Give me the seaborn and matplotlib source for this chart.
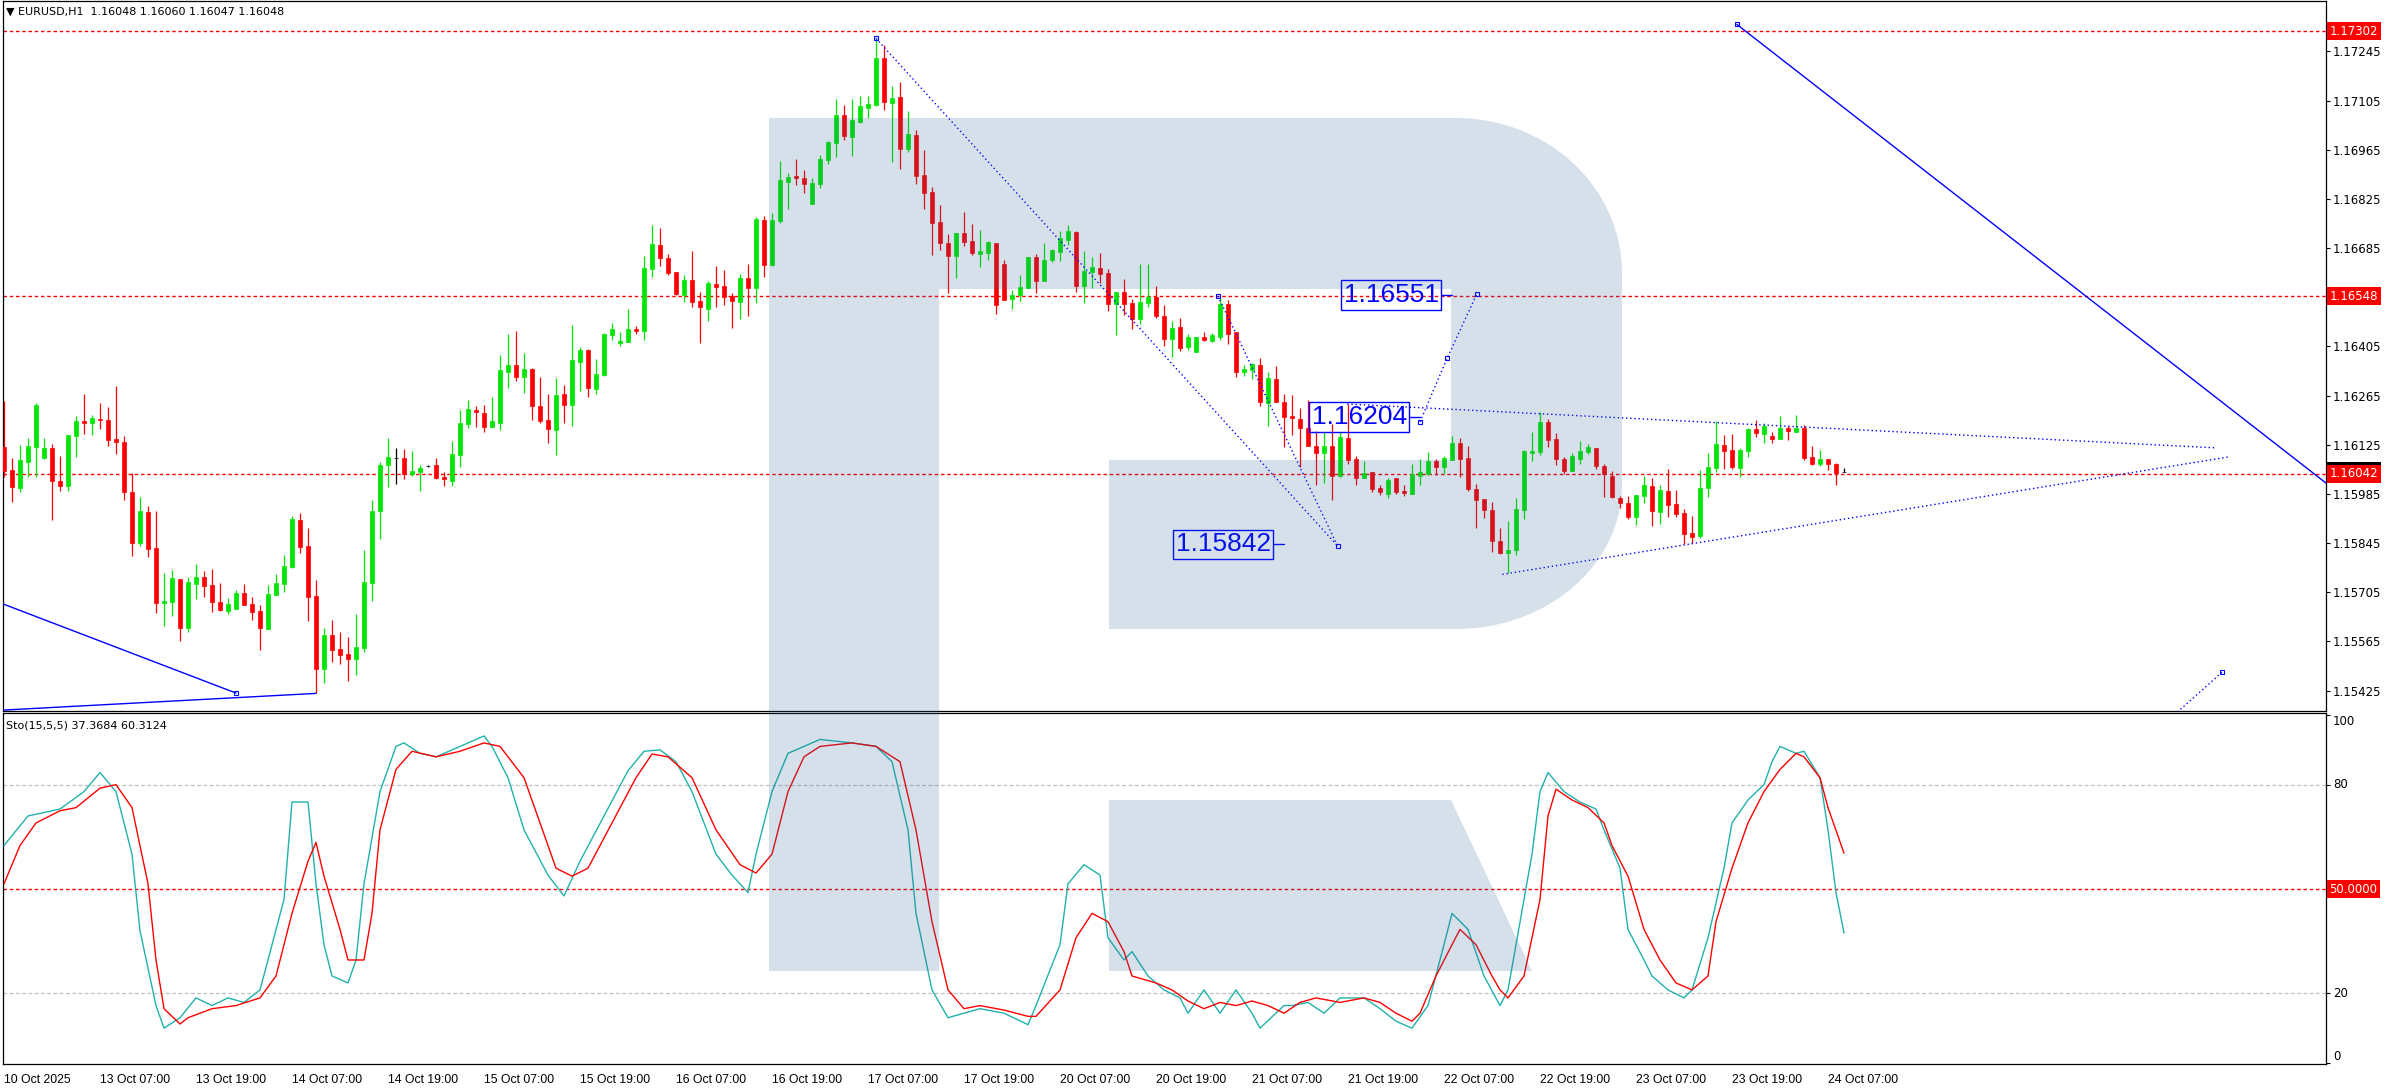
import numpy as np
import matplotlib
matplotlib.use("Agg")
import matplotlib.pyplot as plt
import matplotlib.transforms as mtransforms
from matplotlib.patches import Polygon
import seaborn as sns

# ---------------- data (EURUSD H1, bar 0 = 10 Oct 19:00) ----------------
opens = [
    1.16119, 1.16053, 1.16003, 1.16077, 1.16119, 1.16088, 1.16115, 1.16022, 1.16008, 1.16151,
    1.16192, 1.16188, 1.16198, 1.16195, 1.16141, 1.16133, 1.15990, 1.15845, 1.15933, 1.15831,
    1.15675, 1.15678, 1.15743, 1.15603, 1.15729, 1.15748, 1.15726, 1.15677, 1.15652, 1.15657,
    1.15703, 1.15671, 1.15651, 1.15600, 1.15698, 1.15729, 1.15776, 1.15911, 1.15837, 1.15693,
    1.15487, 1.15583, 1.15543, 1.15529, 1.15514, 1.15547, 1.15732, 1.15937, 1.16066, 1.16086,
    1.16088, 1.16042, 1.16048, 1.16065, 1.16067, 1.16032, 1.16022, 1.16097, 1.16185, 1.16224,
    1.16216, 1.16176, 1.16188, 1.16333, 1.16352, 1.16319, 1.16341, 1.16235, 1.16196, 1.16168,
    1.16270, 1.16239, 1.16361, 1.16395, 1.16284, 1.16324, 1.16438, 1.16416, 1.16417, 1.16455,
    1.16449, 1.16624, 1.16694, 1.16657, 1.16616, 1.16551, 1.16594, 1.16534, 1.16512, 1.16583,
    1.16577, 1.16548, 1.16531, 1.16600, 1.16570, 1.16765, 1.16637, 1.16762, 1.16874, 1.16890,
    1.16884, 1.16811, 1.16868, 1.16937, 1.16984, 1.17064, 1.17002, 1.17045, 1.17084, 1.17092,
    1.17226, 1.17099, 1.17114, 1.16968, 1.17007, 1.16893, 1.16845, 1.16759, 1.16699, 1.16663,
    1.16728, 1.16705, 1.16669, 1.16672, 1.16699, 1.16640, 1.16539, 1.16552, 1.16572, 1.16660,
    1.16591, 1.16651, 1.16674, 1.16709, 1.16730, 1.16577, 1.16617, 1.16628, 1.16614, 1.16526,
    1.16560, 1.16528, 1.16484, 1.16530, 1.16547, 1.16492, 1.16426, 1.16460, 1.16403, 1.16390,
    1.16431, 1.16420, 1.16431, 1.16526, 1.16446, 1.16333, 1.16338, 1.16352, 1.16245, 1.16312,
    1.16246, 1.16207, 1.16198, 1.16173, 1.16121, 1.16102, 1.16121, 1.16037, 1.16144, 1.16085,
    1.16031, 1.16048, 1.16003, 1.15986, 1.16029, 1.15994, 1.15986, 1.16037, 1.16043, 1.16080,
    1.16063, 1.16083, 1.16131, 1.16088, 1.16000, 1.15971, 1.15940, 1.15852, 1.15818, 1.15824,
    1.15939, 1.16102, 1.16105, 1.16190, 1.16141, 1.16084, 1.16051, 1.16085, 1.16105, 1.16115,
    1.16064, 1.16036, 1.15973, 1.15959, 1.15920, 1.15980, 1.16007, 1.15934, 1.15993, 1.15956,
    1.15931, 1.15874, 1.15866, 1.16003, 1.16059, 1.16124, 1.16110, 1.16059, 1.16107, 1.16170,
    1.16156, 1.16150, 1.16141, 1.16172, 1.16161, 1.16172, 1.16090, 1.16070, 1.16084, 1.16070,
    1.16048,
]
highs = [
    1.16250, 1.16086, 1.16124, 1.16143, 1.16245, 1.16143, 1.16127, 1.16093, 1.16153, 1.16207,
    1.16269, 1.16209, 1.16245, 1.16232, 1.16292, 1.16150, 1.16044, 1.15975, 1.15950, 1.15936,
    1.15761, 1.15768, 1.15743, 1.15749, 1.15785, 1.15765, 1.15771, 1.15731, 1.15690, 1.15711,
    1.15729, 1.15691, 1.15668, 1.15726, 1.15756, 1.15811, 1.15922, 1.15930, 1.15889, 1.15740,
    1.15602, 1.15626, 1.15592, 1.15578, 1.15643, 1.15825, 1.15968, 1.16076, 1.16143, 1.16115,
    1.16114, 1.16107, 1.16066, 1.16068, 1.16088, 1.16048, 1.16136, 1.16224, 1.16252, 1.16235,
    1.16238, 1.16262, 1.16381, 1.16441, 1.16449, 1.16386, 1.16344, 1.16318, 1.16270, 1.16315,
    1.16295, 1.16466, 1.16403, 1.16398, 1.16369, 1.16444, 1.16472, 1.16446, 1.16512, 1.16463,
    1.16663, 1.16751, 1.16743, 1.16667, 1.16616, 1.16608, 1.16676, 1.16560, 1.16591, 1.16634,
    1.16623, 1.16558, 1.16610, 1.16640, 1.16773, 1.16776, 1.16785, 1.16933, 1.16900, 1.16939,
    1.16907, 1.16884, 1.16950, 1.16991, 1.17109, 1.17092, 1.17109, 1.17118, 1.17118, 1.17282,
    1.17263, 1.17146, 1.17158, 1.17075, 1.17021, 1.16964, 1.16859, 1.16808, 1.16725, 1.16728,
    1.16788, 1.16753, 1.16737, 1.16706, 1.16699, 1.16651, 1.16565, 1.16608, 1.16660, 1.16668,
    1.16699, 1.16683, 1.16734, 1.16751, 1.16733, 1.16677, 1.16660, 1.16671, 1.16625, 1.16560,
    1.16597, 1.16540, 1.16640, 1.16640, 1.16578, 1.16523, 1.16477, 1.16486, 1.16440, 1.16431,
    1.16446, 1.16443, 1.16547, 1.16537, 1.16446, 1.16352, 1.16358, 1.16372, 1.16332, 1.16349,
    1.16270, 1.16267, 1.16230, 1.16253, 1.16164, 1.16161, 1.16184, 1.16161, 1.16241, 1.16094,
    1.16080, 1.16048, 1.16009, 1.16029, 1.16029, 1.16009, 1.16071, 1.16085, 1.16103, 1.16085,
    1.16094, 1.16151, 1.16145, 1.16122, 1.16014, 1.15971, 1.15963, 1.15889, 1.15909, 1.15972,
    1.16110, 1.16161, 1.16217, 1.16197, 1.16159, 1.16090, 1.16101, 1.16136, 1.16127, 1.16115,
    1.16071, 1.16050, 1.15979, 1.15979, 1.15982, 1.16036, 1.16030, 1.16010, 1.16056, 1.15996,
    1.15942, 1.15923, 1.16053, 1.16101, 1.16192, 1.16153, 1.16156, 1.16116, 1.16172, 1.16195,
    1.16187, 1.16161, 1.16207, 1.16178, 1.16210, 1.16181, 1.16121, 1.16110, 1.16084, 1.16073,
    1.16060,
]
lows = [
    1.16034, 1.15963, 1.15991, 1.16034, 1.16034, 1.16084, 1.15911, 1.15994, 1.15993, 1.16091,
    1.16157, 1.16153, 1.16170, 1.16122, 1.16099, 1.15968, 1.15808, 1.15837, 1.15806, 1.15647,
    1.15609, 1.15638, 1.15567, 1.15592, 1.15686, 1.15692, 1.15649, 1.15652, 1.15643, 1.15657,
    1.15668, 1.15626, 1.15542, 1.15599, 1.15697, 1.15706, 1.15775, 1.15818, 1.15624, 1.15417,
    1.15448, 1.15507, 1.15501, 1.15453, 1.15470, 1.15536, 1.15681, 1.15857, 1.16006, 1.16012,
    1.16028, 1.16036, 1.15993, 1.16061, 1.16028, 1.16007, 1.16007, 1.16061, 1.16173, 1.16175,
    1.16161, 1.16176, 1.16167, 1.16288, 1.16306, 1.16273, 1.16196, 1.16188, 1.16131, 1.16096,
    1.16187, 1.16178, 1.16278, 1.16261, 1.16269, 1.16321, 1.16423, 1.16406, 1.16417, 1.16439,
    1.16423, 1.16603, 1.16634, 1.16609, 1.16551, 1.16531, 1.16516, 1.16415, 1.16477, 1.16517,
    1.16523, 1.16458, 1.16483, 1.16492, 1.16529, 1.16602, 1.16633, 1.16757, 1.16796, 1.16866,
    1.16843, 1.16811, 1.16857, 1.16925, 1.16945, 1.16994, 1.16948, 1.17042, 1.17056, 1.17089,
    1.17078, 1.16931, 1.16911, 1.16959, 1.16868, 1.16797, 1.16664, 1.16679, 1.16558, 1.16601,
    1.16692, 1.16664, 1.16632, 1.16652, 1.16497, 1.16538, 1.16512, 1.16535, 1.16572, 1.16558,
    1.16591, 1.16644, 1.16649, 1.16694, 1.16561, 1.16528, 1.16572, 1.16586, 1.16506, 1.16438,
    1.16495, 1.16455, 1.16470, 1.16518, 1.16486, 1.16407, 1.16376, 1.16392, 1.16395, 1.16390,
    1.16420, 1.16417, 1.16423, 1.16412, 1.16319, 1.16321, 1.16312, 1.16236, 1.16179, 1.16248,
    1.16120, 1.16154, 1.16061, 1.16122, 1.16011, 1.16017, 1.15969, 1.16034, 1.16071, 1.16009,
    1.16029, 1.15991, 1.15983, 1.15974, 1.15986, 1.15980, 1.15986, 1.16009, 1.16040, 1.16040,
    1.16043, 1.16083, 1.16034, 1.15994, 1.15889, 1.15917, 1.15821, 1.15815, 1.15761, 1.15810,
    1.15915, 1.16080, 1.16097, 1.16120, 1.16068, 1.16041, 1.16051, 1.16071, 1.16100, 1.16057,
    1.15975, 1.15972, 1.15946, 1.15915, 1.15897, 1.15960, 1.15895, 1.15900, 1.15920, 1.15920,
    1.15843, 1.15846, 1.15860, 1.15977, 1.16048, 1.16056, 1.16056, 1.16033, 1.16090, 1.16147,
    1.16130, 1.16130, 1.16141, 1.16139, 1.16161, 1.16082, 1.16067, 1.16065, 1.16053, 1.16011,
    1.16047,
]
closes = [
    1.16051, 1.16006, 1.16082, 1.16121, 1.16238, 1.16117, 1.16023, 1.16008, 1.16153, 1.16192,
    1.16188, 1.16201, 1.16196, 1.16138, 1.16134, 1.15991, 1.15845, 1.15936, 1.15829, 1.15675,
    1.15681, 1.15746, 1.15603, 1.15734, 1.15748, 1.15724, 1.15678, 1.15654, 1.15671, 1.15702,
    1.15669, 1.15649, 1.15604, 1.15700, 1.15731, 1.15780, 1.15913, 1.15834, 1.15692, 1.15487,
    1.15583, 1.15542, 1.15527, 1.15514, 1.15549, 1.15734, 1.15936, 1.16066, 1.16089, 1.16086,
    1.16042, 1.16050, 1.16059, 1.16065, 1.16029, 1.16028, 1.16099, 1.16187, 1.16227, 1.16217,
    1.16176, 1.16192, 1.16338, 1.16352, 1.16319, 1.16341, 1.16236, 1.16192, 1.16170, 1.16267,
    1.16239, 1.16366, 1.16395, 1.16288, 1.16327, 1.16441, 1.16455, 1.16420, 1.16455, 1.16449,
    1.16629, 1.16697, 1.16658, 1.16615, 1.16554, 1.16594, 1.16532, 1.16516, 1.16586, 1.16574,
    1.16546, 1.16534, 1.16600, 1.16570, 1.16768, 1.16637, 1.16765, 1.16879, 1.16888, 1.16884,
    1.16868, 1.16870, 1.16939, 1.16987, 1.17064, 1.17005, 1.17050, 1.17089, 1.17095, 1.17226,
    1.17102, 1.17112, 1.16968, 1.17010, 1.16891, 1.16843, 1.16757, 1.16700, 1.16663, 1.16728,
    1.16703, 1.16672, 1.16677, 1.16702, 1.16524, 1.16538, 1.16550, 1.16574, 1.16660, 1.16591,
    1.16651, 1.16680, 1.16714, 1.16734, 1.16577, 1.16620, 1.16631, 1.16611, 1.16526, 1.16560,
    1.16526, 1.16484, 1.16532, 1.16546, 1.16492, 1.16426, 1.16457, 1.16401, 1.16431, 1.16431,
    1.16423, 1.16437, 1.16526, 1.16440, 1.16333, 1.16341, 1.16355, 1.16248, 1.16315, 1.16248,
    1.16205, 1.16200, 1.16174, 1.16122, 1.16102, 1.16121, 1.16037, 1.16147, 1.16083, 1.16031,
    1.16044, 1.16000, 1.15991, 1.16026, 1.15991, 1.15988, 1.16043, 1.16046, 1.16080, 1.16063,
    1.16088, 1.16131, 1.16085, 1.16000, 1.15969, 1.15940, 1.15852, 1.15818, 1.15826, 1.15943,
    1.16108, 1.16107, 1.16190, 1.16139, 1.16085, 1.16051, 1.16093, 1.16107, 1.16118, 1.16064,
    1.16041, 1.15975, 1.15960, 1.15920, 1.15982, 1.16010, 1.15937, 1.15996, 1.15954, 1.15929,
    1.15872, 1.15863, 1.16002, 1.16062, 1.16127, 1.16108, 1.16062, 1.16110, 1.16170, 1.16158,
    1.16178, 1.16141, 1.16172, 1.16164, 1.16172, 1.16087, 1.16070, 1.16084, 1.16070, 1.16045,
    1.16048,
]

# Stochastic (15,5,5): vertices (bar index, value)
main_bars = [0, 3, 7, 10, 12, 14, 16, 17, 19, 20, 22, 24, 26, 28, 30, 32, 33, 35, 36, 38,
             39, 40, 41, 43, 44, 45, 47, 49, 50, 52, 54, 57, 60, 61, 63, 65, 68, 70, 72, 75,
             78, 80, 82, 84, 86, 89, 91, 93, 94, 96, 98, 100, 102, 106, 109, 111, 113, 114, 116, 118,
             120, 122, 125, 128, 129, 132, 133, 135, 137, 138, 140, 141, 143, 145, 147, 148, 150, 152, 154, 156,
             157, 160, 161, 163, 165, 167, 170, 172, 174, 176, 178, 180, 181, 183, 185, 187, 188, 189, 191, 192,
             193, 195, 197, 199, 200, 202, 203, 205, 206, 208, 210, 211, 213, 215, 216, 218, 220, 221, 222, 224,
             225, 227, 228, 229, 230]
main_vals = [62.5, 71, 73, 78, 83.5, 78, 60, 38, 16.5, 10, 13, 18.7, 16.5, 18.7, 17.4, 21, 29.6, 47, 75, 75,
             51.5, 34, 25, 23, 29.6, 51.5, 78, 91, 92, 89, 88, 91, 94, 91, 82, 67, 54, 48, 58, 71,
             84, 89.6, 90, 86.6, 78, 60, 54, 49, 60, 78, 89, 91, 93, 92, 91, 86.6, 67, 43, 21, 13,
             14.3, 15.6, 14.3, 11, 16.5, 34, 51.5, 57, 54, 36, 29.6, 32, 25, 21, 18.7, 14.3, 21, 14.3, 21, 14.3,
             10, 16.5, 16.5, 17.4, 14.3, 18.7, 18.7, 15.6, 12, 10, 16.5, 34, 43, 38.4, 25, 16.5, 21, 34, 60, 78,
             83.5, 78, 75, 73, 67, 56, 38.4, 29.6, 25, 21, 18.7, 21, 36, 56, 69, 75.6, 80, 86.6, 91, 89,
             89.6, 82, 67, 49, 37.3684]
sig_bars = [0, 2, 4, 7, 9, 12, 14, 16, 18, 19, 20, 22, 23, 26, 29, 32, 34, 36, 38, 39,
            40, 42, 43, 45, 46, 47, 49, 51, 54, 57, 60, 62, 65, 67, 69, 71, 73, 76, 79, 81,
            83, 86, 89, 92, 94, 96, 98, 100, 102, 106, 109, 112, 114, 116, 118, 120, 122, 125, 128, 129,
            132, 134, 136, 138, 140, 141, 144, 146, 148, 150, 152, 154, 156, 158, 160, 162, 164, 167, 170, 172,
            174, 176, 177, 179, 181, 182, 184, 186, 187, 188, 190, 192, 193, 194, 196, 198, 200, 201, 203, 205,
            207, 209, 211, 213, 214, 216, 218, 220, 222, 224, 225, 227, 228, 230]
sig_vals = [51.5, 62.5, 69, 72.5, 73.4, 79, 80, 73.4, 51.5, 29.6, 15.6, 11.2, 13, 15.6, 16.5, 18.7, 25, 43, 58, 63.4,
            53.7, 38.4, 29.6, 29.6, 43, 67, 84.4, 89.6, 88, 89.6, 92, 91, 82, 69, 56, 53.7, 56, 69, 82, 88.8,
            88, 82, 67, 57, 54.6, 60, 78, 88, 91, 92, 91, 86.6, 67, 40.6, 21, 15.6, 16.5, 15.2, 13.4, 13.4,
            21, 36, 43, 40.6, 32, 25, 23, 21, 17.8, 15.6, 17.4, 16.5, 17.8, 16.5, 14.3, 17.4, 18.7, 17.4, 18.7, 17.4,
            14.3, 12, 14.3, 25, 34, 38.4, 34, 25, 21, 18.7, 25, 47, 71, 78.7, 75.6, 73.4, 69, 62.5, 53.7, 38.4,
            29.6, 23, 21, 25, 40.6, 56, 69, 78, 84.4, 89, 88, 82, 73.4, 60.3124]

time_labels = ["10 Oct 2025", "13 Oct 07:00", "13 Oct 19:00", "14 Oct 07:00", "14 Oct 19:00",
               "15 Oct 07:00", "15 Oct 19:00", "16 Oct 07:00", "16 Oct 19:00", "17 Oct 07:00",
               "17 Oct 19:00", "20 Oct 07:00", "20 Oct 19:00", "21 Oct 07:00", "21 Oct 19:00",
               "22 Oct 07:00", "22 Oct 19:00", "23 Oct 07:00", "23 Oct 19:00", "24 Oct 07:00"]
price_ticks = [1.17245, 1.17105, 1.16965, 1.16825, 1.16685, 1.16405, 1.16265, 1.16125,
               1.15985, 1.15845, 1.15705, 1.15565, 1.15425]
level_lines = [1.17302, 1.16548, 1.16042]
bid_price = 1.16048
sto_grid = [20, 80]
sto_mid = 50

# analyst drawings (bar index, price)
solid_lines = [[(-0.5, 1.15675), (29.0, 1.15418)],
               [(-0.5, 1.15369), (39.0, 1.15417)],
               [(216.6, 1.17322), (290.3, 1.16015)]]
dotted_lines = [[(109.0, 1.17282), (166.7, 1.15837)],
                [(151.75, 1.16548), (166.7, 1.15837)],
                [(177.0, 1.16190), (180.4, 1.16372), (184.1, 1.16554)],
                [(167.9, 1.16241), (276.6, 1.16116)],
                [(187.3, 1.15756), (278.0, 1.16090)],
                [(270.5, 1.15340), (277.3, 1.15478)]]
anchor_points = [(29.0, 1.15418), (216.6, 1.17322), (109.0, 1.17282), (166.7, 1.15837),
                 (151.75, 1.16548), (177.0, 1.16190), (180.4, 1.16372), (184.1, 1.16554),
                 (277.3, 1.15478)]
target_texts = ["1.16551", "1.16204", "1.15842"]
target_pos = [(173.4, 1.16551), (169.4, 1.16204), (152.4, 1.15842)]

BULL = "#00e600"
BEAR = "#ff0000"
STO_MAIN = "#20b2aa"
BLUE = "#0000ff"
W, H = 2390, 1090

sns.set_style("white")
plt.rcParams["font.family"] = ["DejaVu Sans"]

fig = plt.figure(figsize=(W / 100, H / 100), dpi=100)
ax = fig.add_axes([3 / W, (H - 711) / H, 2323 / W, 710 / H])
ax2 = fig.add_axes([3 / W, (H - 1064) / H, 2323 / W, 351 / H])

o = np.array(opens)
c = np.array(closes)
hi = np.array(highs)
lo = np.array(lows)
xb = np.arange(len(c))
cols = np.where(c > o, BULL, np.where(c < o, BEAR, "black"))

# price panel
ax.vlines(xb, lo, hi, colors=cols, lw=0.9, zorder=3)
ax.bar(xb, np.abs(c - o), bottom=np.minimum(o, c), width=0.6, color=cols,
       edgecolor=cols, linewidth=0.5, zorder=4)
for lv in level_lines:
    ax.axhline(lv, color="red", lw=1.0, ls=(0, (2.5, 2)), zorder=2)
for ln in solid_lines:
    px, py = zip(*ln)
    ax.plot(px, py, color=BLUE, lw=1.0, zorder=5)
for ln in dotted_lines:
    px, py = zip(*ln)
    ax.plot(px, py, color=BLUE, lw=1.0, ls=(0, (1, 2)), zorder=5)
ax_x, ax_y = zip(*anchor_points)
ax.plot(ax_x, ax_y, ls="none", marker="s", ms=3.5, mfc="none", mec=BLUE, mew=0.8, zorder=6)
for txt, (tx, ty) in zip(target_texts, target_pos):
    ax.text(tx, ty, txt, color=BLUE, fontsize=19, family=["Liberation Sans", "DejaVu Sans"],
            ha="center", va="center", zorder=7,
            bbox=dict(boxstyle="square,pad=0.1", fc="none", ec=BLUE, lw=1.0))
    ax.plot([tx + 6.35, tx + 7.6], [ty, ty], color=BLUE, lw=1.0, zorder=7)

ax.set_xlim(-0.125, 290.25)
ax.set_ylim(1.153669, 1.173885)
ax.set_xticks([])
ax.yaxis.tick_right()
ax.set_yticks(price_ticks)
ax.set_yticklabels([f"{t:.5f}" for t in price_ticks])
ax.tick_params(axis="y", direction="out", length=3, width=0.8, labelsize=8.5, pad=2, colors="black")

trans = mtransforms.blended_transform_factory(ax.transAxes, ax.transData)
ax.text(1.0015, bid_price + 0.00002, f"{bid_price:.5f}", transform=trans, color="white", fontsize=8.5,
        ha="left", va="center", clip_on=False, zorder=8,
        bbox=dict(boxstyle="square,pad=0.22", fc="black", ec="none"))
for lv in level_lines:
    ax.text(1.0015, lv, f"{lv:.5f}", transform=trans, color="white", fontsize=8.5,
            ha="left", va="center", clip_on=False, zorder=9,
            bbox=dict(boxstyle="square,pad=0.22", fc="red", ec="none"))

# stochastic panel
for g in sto_grid:
    ax2.axhline(g, color="#c0c0c0", lw=0.9, ls=(0, (3, 2)), zorder=1)
ax2.axhline(sto_mid, color="red", lw=1.0, ls=(0, (2.5, 2)), zorder=1)
sns.lineplot(x=main_bars, y=main_vals, ax=ax2, color=STO_MAIN, lw=1.0, sort=False,
             estimator=None, legend=False, zorder=3)
sns.lineplot(x=sig_bars, y=sig_vals, ax=ax2, color="red", lw=1.0, sort=False,
             estimator=None, legend=False, zorder=4)
ax2.set_xlim(-0.125, 290.25)
ax2.set_ylim(-0.3, 100.6)
ax2.set_xlabel("")
ax2.set_ylabel("")
ax2.yaxis.tick_right()
ax2.set_yticks([0, 20, 80, 100])
ax2.set_yticklabels(["0", "20", "80", "100"])
ax2.tick_params(axis="y", direction="out", length=3, width=0.8, labelsize=8.5, pad=2, colors="black")
for lab, va in zip(ax2.get_yticklabels(), ["bottom", "center", "center", "top"]):
    lab.set_verticalalignment(va)
trans2 = mtransforms.blended_transform_factory(ax2.transAxes, ax2.transData)
ax2.text(1.0015, sto_mid, f"{sto_mid:.4f}", transform=trans2, color="white", fontsize=8.5,
         ha="left", va="center", clip_on=False, zorder=9,
         bbox=dict(boxstyle="square,pad=0.22", fc="red", ec="none"))
ax2.set_xticks(np.arange(len(time_labels)) * 12)
ax2.set_xticklabels(time_labels, ha="left", fontsize=8.8,
                    family=["Liberation Sans", "DejaVu Sans"])
ax2.tick_params(axis="x", direction="out", length=4, width=0.8, pad=3, colors="black")

for a in (ax, ax2):
    a.set_facecolor("white")
    for sp in a.spines.values():
        sp.set_color("black")
        sp.set_linewidth(0.9)

fig.text(6 / W, 1 - 12 / H, "\u25bc EURUSD,H1  1.16048 1.16060 1.16047 1.16048",
         fontsize=8, va="center", ha="left", color="black")
fig.text(6 / W, 1 - 726 / H, "Sto(15,5,5) 37.3684 60.3124",
         fontsize=8, va="center", ha="left", color="black")

# translucent watermark logo laid over both panels (pixel coordinates)
ov = fig.add_axes([0, 0, 1, 1], zorder=10)
ov.set_xlim(0, W)
ov.set_ylim(H, 0)
ov.axis("off")
ov.patch.set_alpha(0)


def corner(cx, cy, rx, ry, a0, a1, n=40):
    t = np.radians(np.linspace(a0, a1, n))
    return list(zip(cx + rx * np.cos(t), cy + ry * np.sin(t)))


body = ([(769, 118)] + corner(1456, 273, 166, 155, -90, 0) + corner(1456, 485, 166, 144, 0, 90)
        + [(1109, 629), (1109, 460), (1451, 460), (1451, 289), (939, 289), (939, 971), (769, 971)])
leg = [(1109, 800), (1451, 800), (1532, 971), (1109, 971)]
for shape in (body, leg):
    ov.add_patch(Polygon(shape, closed=True, fc="#2d649b", ec="none", alpha=0.2))

fig.savefig("out.png", dpi=100)
